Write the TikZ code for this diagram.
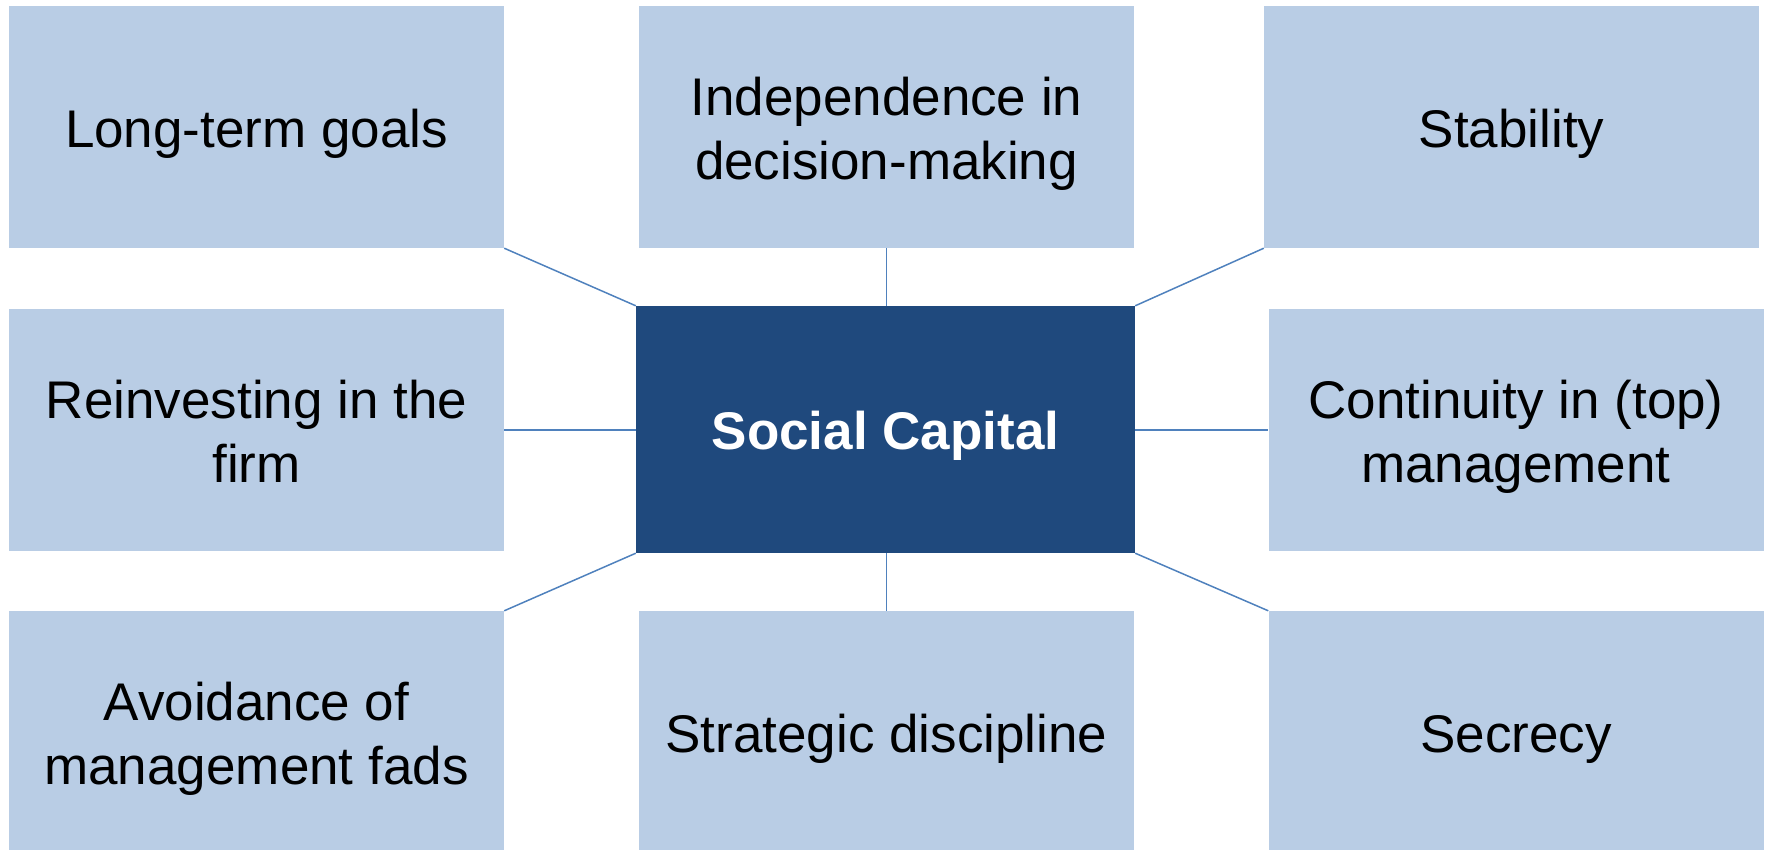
\documentclass[tikz,border=0pt]{standalone}
\usepackage{fontspec}
\setmainfont{Liberation Sans}
\definecolor{boxblue}{HTML}{B9CDE5}
\definecolor{darkblue}{HTML}{1F497D}
\definecolor{lineblue}{HTML}{4F81BD}
\newcommand{\boxstrut}{\rule[-0.2em]{0pt}{1.18em}}
\begin{document}
\begin{tikzpicture}[x=1pt,y=-1pt,
	        label text/.style={inner sep=0pt,text width=495pt,align=flush center,font=\fontsize{53}{64}\selectfont,
	                execute at begin node=\boxstrut,execute at end node=\boxstrut},
	        item/.style={label text,fill=boxblue,minimum width=495pt,minimum height=242pt},
	        core/.style={label text,fill=darkblue,text=white,minimum width=499pt,minimum height=247pt,font=\fontsize{53}{64}\selectfont\bfseries},
	        link/.style={lineblue,line width=1.5pt}]
	        \useasboundingbox (0,0) rectangle (1767,849);
	        \node[core] (sc) at (885.5,429.5) {Social Capital};
	        \node[item] (lt) at (256.5,127) {Long-term goals};
	        \node[item] (idm) at (886.5,127) {Independence in\\decision-making};
	        \node[item] (stab) at (1511.5,127) {Stability};
	        \node[item] (reinv) at (256.5,430) {Reinvesting in the\\firm};
	        \node[item] (cont) at (1516,430) {Continuity in (top)\\management};
	        \node[item] (avoid) at (256.5,732) {Avoidance of\\management fads};
	        \node[item] (strat) at (886.5,732) {Strategic discipline};
	        \node[item] (secr) at (1516,732) {Secrecy};
	        \draw[link] (lt.south east) -- (sc.north west);
	        \draw[link] (idm.south) -- (idm.south |- sc.north);
	        \draw[link] (stab.south west) -- (sc.north east);
	        \draw[link] (reinv.east) -- (sc.west |- reinv.east);
	        \draw[link] (sc.east |- cont.west) -- (cont.west);
	        \draw[link] (avoid.north east) -- (sc.south west);
	        \draw[link] (strat.north) -- (strat.north |- sc.south);
	        \draw[link] (secr.north west) -- (sc.south east);
\end{tikzpicture}
\end{document}
